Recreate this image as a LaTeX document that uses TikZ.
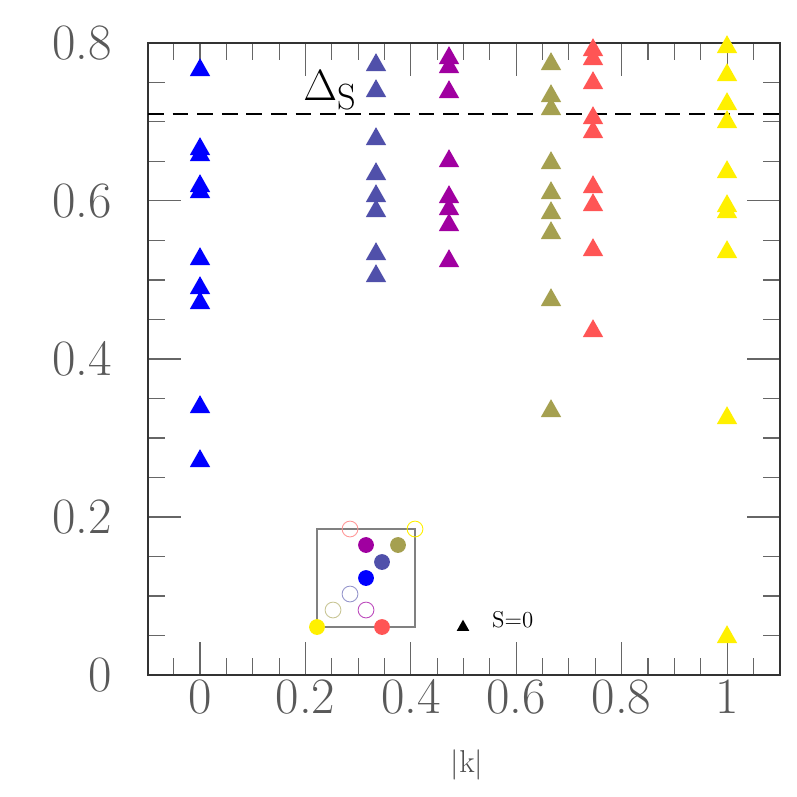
\documentclass[tikz,border=0pt]{standalone}
\usepackage{tikz}
\definecolor{cblue}{RGB}{0,0,255}
\definecolor{cslate}{RGB}{80,80,170}
\definecolor{cpurple}{RGB}{160,0,160}
\definecolor{colive}{RGB}{165,160,80}
\definecolor{cred}{RGB}{255,85,85}
\definecolor{cyel}{RGB}{255,240,0}
\newcommand{\tri}[3]{\fill[#1] ([shift={(-5.8pt,-4.6pt)}]#2,#3) -- ([shift={(5.8pt,-4.6pt)}]#2,#3) -- ([shift={(0pt,5.6pt)}]#2,#3) -- cycle;}
\begin{document}
\begin{tikzpicture}[x=0.02cm,y=-0.02cm,
  ticklab/.style={font=\fontsize{29}{30}\selectfont, text=gray!70!black},
  dot/.style={circle, inner sep=0pt, minimum size=9pt}]
\useasboundingbox (0,0) rectangle (797,797);

% ticks
\foreach \i in {0,...,24}{
  \pgfmathsetmacro{\xx}{200+527*(\i*0.05-0.1)}
  \pgfmathtruncatemacro{\m}{mod(\i,4)}
  \ifnum\m=2
    \draw[gray!80!black,line width=0.6pt] (\xx,43) -- (\xx,76);
    \draw[gray!80!black,line width=0.6pt] (\xx,675) -- (\xx,642);
  \else
    \draw[gray!80!black,line width=0.6pt] (\xx,43) -- (\xx,60);
    \draw[gray!80!black,line width=0.6pt] (\xx,675) -- (\xx,658);
  \fi
}
\foreach \i in {1,...,15}{
  \pgfmathsetmacro{\yy}{675-790*\i*0.05}
  \pgfmathtruncatemacro{\m}{mod(\i,4)}
  \ifnum\m=0
    \draw[gray!80!black,line width=0.6pt] (148,\yy) -- (181,\yy);
    \draw[gray!80!black,line width=0.6pt] (780,\yy) -- (747,\yy);
  \else
    \draw[gray!80!black,line width=0.6pt] (148,\yy) -- (165,\yy);
    \draw[gray!80!black,line width=0.6pt] (780,\yy) -- (763,\yy);
  \fi
}
% frame
\draw[black!80,line width=0.6pt] (148,43) rectangle (780,675);

% axis labels
\foreach \v/\t in {0/0,0.2/0.2,0.4/0.4,0.6/0.6,0.8/0.8}{
  \node[ticklab,anchor=east] at (118,675-790*\v) {\t};
}
\foreach \v/\t in {0/0,0.2/0.2,0.4/0.4,0.6/0.6,0.8/0.8,1/1}{
  \node[ticklab] at (200+527*\v,697) {\t};
}
\node[font=\fontsize{18}{20}\selectfont, text=gray!60!black] (klab) at (467,765) {$|$k$|$};

% dashed line
\draw[black,dashed,line width=1.5pt,dash pattern=on 9pt off 5pt] (148,114) -- (780,114);
\node[font=\fontsize{29}{30}\selectfont] (dlab) at (330,90) {$\Delta_{\mathrm{S}}$};

% triangles
\foreach \y in {68,147,153,184,190,257,286,301,405,459}{\tri{cblue}{200}{\y}}
\foreach \y in {63,89,137,172,194,209,252,274}{\tri{cslate}{376}{\y}}
\foreach \y in {56,65,90,159,195,207,223,259}{\tri{cpurple}{449}{\y}}
\foreach \y in {62,94,107,161,191,211,231,298,409}{\tri{colive}{551}{\y}}
\foreach \y in {48,57,81,116,130,185,203,248,329}{\tri{cred}{593}{\y}}
\foreach \y in {45,73,102,120,170,204,210,250,416,635}{\tri{cyel}{727}{\y}}

% inset
\draw[gray,line width=0.8pt] (317,529) rectangle (415,627);
\node[dot,draw=cred!60,line width=0.5pt] (o1) at (350,529) {};
\node[dot,draw=cyel,line width=0.5pt] (o2) at (415,529) {};
\node[dot,fill=cpurple] (f1) at (366,545) {};
\node[dot,fill=colive] (f2) at (398,545) {};
\node[dot,fill=cslate] (f3) at (382,562) {};
\node[dot,fill=cblue] (f4) at (366,578) {};
\node[dot,draw=cslate!60,line width=0.5pt] (o3) at (350,594) {};
\node[dot,draw=colive!60,line width=0.5pt] (o4) at (333,610) {};
\node[dot,draw=cpurple!70,line width=0.5pt] (o5) at (366,610) {};
\node[dot,fill=cyel] (f5) at (317,627) {};
\node[dot,fill=cred] (f6) at (382,627) {};

\fill[black] ([shift={(-3.6pt,-2.8pt)}]463,626) -- ([shift={(3.6pt,-2.8pt)}]463,626) -- ([shift={(0pt,3.6pt)}]463,626) -- cycle;
\node[font=\fontsize{13}{14}\selectfont,anchor=west] (slab) at (486,620) {S=0};
\end{tikzpicture}
\end{document}
